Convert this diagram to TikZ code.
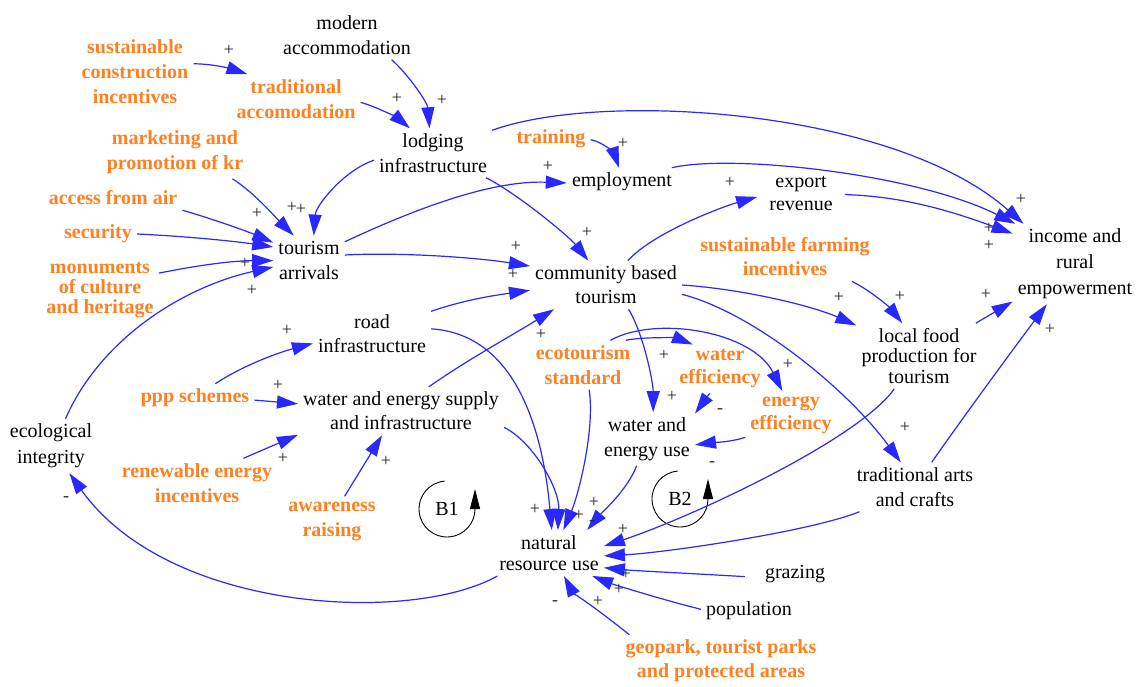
\documentclass[tikz,border=0pt]{standalone}
\usepackage{fontspec}
\setmainfont{Liberation Serif}
\usetikzlibrary{arrows.meta,calc}
\definecolor{ctlorange}{RGB}{255,128,32}
\definecolor{linkblue}{RGB}{40,40,255}
\begin{document}
\begin{tikzpicture}[x=1pt,y=-1pt,
  var/.style={font=\fontsize{20}{25}\selectfont, align=center, inner sep=5pt, text=black},
  ctl/.style={var, font=\fontsize{20}{25}\selectfont\bfseries, text=ctlorange},
  link/.style={draw=linkblue, line width=1.2pt, -{Triangle[length=21pt,width=13pt]}},
  pol/.style={font=\fontsize{18}{18}\selectfont, inner sep=0pt, text=black!85},
  loopmark/.style={draw=black, line width=0.9pt, -{Triangle[length=20pt,width=10pt]}},
]
\fill[white] (0,0) rectangle (1140,686);
\path[use as bounding box] (0,0) rectangle (1140,686);

% ---------- variables ----------
\node[var] (mod) at (347,35) {modern\\accommodation};
\node[ctl] (sci) at (135,72) {sustainable\\construction\\incentives};
\node[ctl] (trad) at (296,99) {traditional\\accomodation};
\node[var] (lodg) at (433,153) {lodging\\infrastructure};
\node[ctl] (mkt) at (175,152) {marketing and\\promotion of kr};
\node[ctl] (train) at (551,139) {training};
\node[var] (emp) at (622,182) {employment};
\node[var, font=\fontsize{20}{23}\selectfont, inner xsep=12pt] (exp) at (801,193) {export\\revenue};
\node[ctl] (acc) at (113,198) {access from air};
\node[ctl] (sec) at (98,234) {security};
\node[var] (tour) at (309,260) {tourism\\arrivals};
\node[ctl, font=\fontsize{20}{20}\selectfont\bfseries] (mon) at (100,290) {monuments\\of culture\\and heritage};
\node[var, font=\fontsize{20}{26}\selectfont] (inc) at (1075,264) {income and\\rural\\empowerment};
\node[var, font=\fontsize{20}{24}\selectfont] (cbt) at (606,285) {community based\\tourism};
\node[ctl, font=\fontsize{20}{24}\selectfont\bfseries] (sfi) at (785,257) {sustainable farming\\incentives};
\node[var, font=\fontsize{20}{24}\selectfont] (road) at (372,334) {road\\infrastructure};
\node[var, font=\fontsize{20}{20.5}\selectfont] (food) at (919,356) {local food\\production for\\tourism};
\node[ctl] (ecos) at (583,365) {ecotourism\\standard};
\node[ctl, font=\fontsize{20}{23}\selectfont\bfseries] (weff) at (720,369) {water\\efficiency};
\node[ctl, font=\fontsize{20}{23}\selectfont\bfseries] (eeff) at (791,415) {energy\\efficiency};
\node[ctl] (ppp) at (195,398) {ppp schemes};
\node[var, font=\fontsize{20}{24}\selectfont] (wes) at (401,411) {water and energy supply\\and infrastructure};
\node[var] (weu) at (647,439) {water and\\energy use};
\node[var, font=\fontsize{20}{26}\selectfont] (ecoi) at (51,446) {ecological\\integrity};
\node[ctl] (ren) at (197,483) {renewable energy\\incentives};
\node[var] (arts) at (915,487) {traditional arts\\and crafts};
\node[ctl] (aw) at (332,521) {awareness\\raising};
\node[var, font=\fontsize{20}{21.5}\selectfont] (nru) at (549,553) {natural\\resource use};
\node[var, inner xsep=20pt] (graz) at (795,574) {grazing};
\node[var] (pop) at (749,611) {population};
\node[ctl, font=\fontsize{20}{24}\selectfont\bfseries] (geo) at (721,661) {geopark, tourist parks\\and protected areas};

% ---------- loop markers ----------
\node[var] (b1) at (447,509) {B1};
\node[var] (b2) at (680,499) {B2};
\draw[loopmark] ([shift={(95:28pt)}]b1.center) arc[start angle=95, end angle=360, radius=28pt] -- ++(0,-20);
\draw[loopmark] ([shift={(95:28pt)}]b2.center) arc[start angle=95, end angle=360, radius=28pt] -- ++(0,-20);

% ---------- causal links ----------
\draw[link] (sci.8) .. controls +(20,0) and +(-15,-5) .. (trad.153);
\draw[link] (trad.-3) .. controls +(15,4) and +(-12,-10) .. (lodg.133);
\draw[link] (mod.-29) .. controls +(18,16) and +(-2,-25) .. (lodg.98);
\draw[link] (mkt.-25) .. controls +(22,14) and +(-18,-18) .. (tour.122);
\draw[link] (lodg.187) .. controls +(-30,10) and +(2,-30) .. (tour.79);
\draw[link] (acc.-10) .. controls +(28,8) and +(-28,-12) .. (tour.154);
\draw[link] (sec.0) .. controls +(45,2) and +(-40,-6) .. (tour.160);
\draw[link] (mon.16) .. controls +(40,-8) and +(-40,0) .. (tour.181);
\draw[link] (ecoi.62) .. controls +(35,-80) and +(-90,20) .. (tour.191);
\draw[link] (tour.27) .. controls +(60,-28) and +(-80,-3) .. (emp.181);
\draw[link] (tour.8) .. controls +(60,-3) and +(-50,-8) .. (cbt.166);
\draw[link] (lodg.-25) .. controls +(30,15) and +(-20,-25) .. (cbt.126);
\draw[link] (lodg.21) .. controls +(110,-40) and +(-130,-115) .. (inc.142);
\draw[link] (train.-1) .. controls +(15,3) and +(-4,-12) .. (emp.102);
\draw[link] (emp.16) .. controls +(60,-14) and +(-100,-50) .. (inc.146);
\draw[link] (exp.-2) .. controls +(60,2) and +(-60,-22) .. (inc.154);
\draw[link] (cbt.48) .. controls +(25,-28) and +(-35,10) .. (exp.185);
\draw[link] (road.21) .. controls +(35,-12) and +(-35,5) .. (cbt.184);
\draw[link] (wes.41) .. controls +(40,-28) and +(-40,25) .. (cbt.205);
\draw[link] (cbt.0) .. controls +(60,4) and +(-45,-20) .. (food.154);
\draw[link] (sfi.-20) .. controls +(20,10) and +(-12,-15) .. (food.117);
\draw[link] (cbt.-7) .. controls +(70,18) and +(-55,-75) .. (arts.120);
\draw[link] (cbt.-47) .. controls +(15,25) and +(0,-30) .. (weu.77);
\draw[link] (food.30) -- (inc.211);
\draw[link] (arts.56) .. controls +(35,-50) and +(-30,40) .. (inc.235);
\draw[link] (ecos.30) .. controls +(20,-4) and +(-15,-6) .. (weff.138);
\draw[link] (ecos.42) .. controls +(45,-25) and +(-30,-60) .. (eeff.110);
\draw[link] (weff.247) -- (weu.28);
\draw[link] (eeff.206) .. controls +(-15,5) and +(15,-2) .. (weu.-7);
\draw[link] (weu.249) .. controls +(-10,25) and +(15,-18) .. (nru.31);
\draw[link] (road.5) .. controls +(80,5) and +(-10,-110) .. (nru.83);
\draw[link] (wes.-9) .. controls +(30,15) and +(2,-40) .. (nru.69);
\draw[link] (ecos.-76) .. controls +(6,40) and +(15,-35) .. (nru.58);
\draw[link] (food.233) .. controls +(-35,50) and +(90,-30) .. (nru.7);
\draw[link] (arts.204) .. controls +(-50,20) and +(60,-3) .. (nru.-3);
\draw[link] (graz.183) .. controls +(-50,-3) and +(30,3) .. (nru.-15);
\draw[link] (pop.178) .. controls +(-40,-10) and +(20,8) .. (nru.-28);
\draw[link] (geo.164) .. controls +(-25,-20) and +(8,15) .. (nru.-57);
\draw[link] (nru.204) .. controls +(-85,48) and +(100,140) .. (ecoi.-56);
\draw[link] (ppp.35) .. controls +(30,-20) and +(-30,8) .. (road.189);
\draw[link] (ppp.-2) -- (wes.176);
\draw[link] (ren.28) -- (wes.193);
\draw[link] (aw.63) -- (wes.232);

% ---------- link polarities ----------
\node[pol] (s1) at (229,50) {+};
\node[pol] (s2) at (397,98) {+};
\node[pol] (s3) at (442,100) {+};
\node[pol] (s4) at (292,207) {+};
\node[pol] (s5) at (301,209) {+};
\node[pol] (s6) at (257,213) {+};
\node[pol] (s7) at (245,263) {+};
\node[pol] (s8) at (252,290) {+};
\node[pol] (s9) at (548,166) {+};
\node[pol] (s10) at (516,246) {+};
\node[pol] (s11) at (587,232) {+};
\node[pol] (s12) at (1021,199) {+};
\node[pol] (s13) at (623,143) {+};
\node[pol] (s14) at (989,228) {+};
\node[pol] (s15) at (989,245) {+};
\node[pol] (s16) at (730,182) {+};
\node[pol] (s17) at (513,274) {+};
\node[pol] (s18) at (541,334) {+};
\node[pol] (s19) at (839,297) {+};
\node[pol] (s20) at (900,296) {+};
\node[pol] (s21) at (905,427) {+};
\node[pol] (s22) at (672,396) {+};
\node[pol] (s23) at (986,294) {+};
\node[pol] (s24) at (1050,329) {+};
\node[pol] (s25) at (664,355) {+};
\node[pol] (s26) at (788,364) {+};
\node[pol] (s27) at (720,411) {-};
\node[pol] (s28) at (712,464) {-};
\node[pol] (s29) at (594,502) {+};
\node[pol] (s30) at (579,515) {+};
\node[pol] (s31) at (592,523) {-};
\node[pol] (s32) at (535,509) {+};
\node[pol] (s33) at (623,529) {+};
\node[pol] (s34) at (626,574) {+};
\node[pol] (s35) at (619,589) {+};
\node[pol] (s36) at (598,601) {+};
\node[pol] (s37) at (555,603) {-};
\node[pol] (s38) at (66,499) {-};
\node[pol] (s39) at (287,330) {+};
\node[pol] (s40) at (278,385) {+};
\node[pol] (s41) at (283,458) {+};
\node[pol] (s42) at (386,461) {+};
\end{tikzpicture}
\end{document}
